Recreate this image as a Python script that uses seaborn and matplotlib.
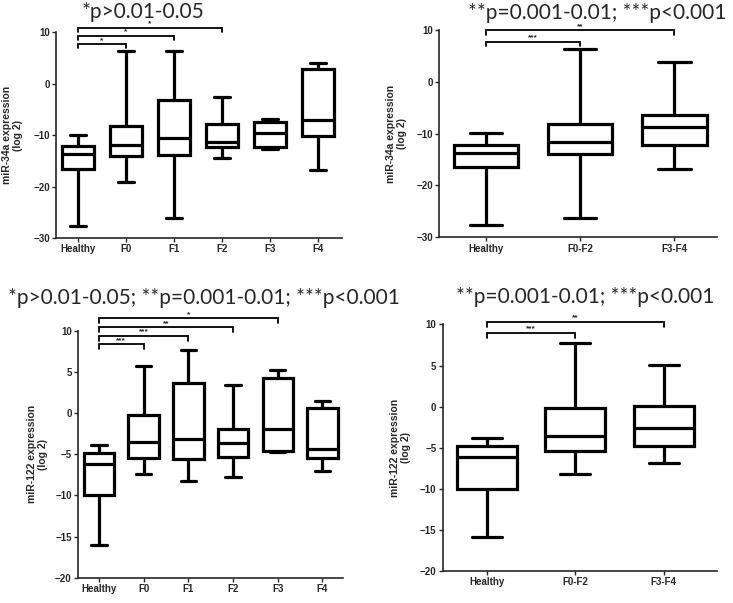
import numpy as np
import pandas as pd
import matplotlib
matplotlib.use('Agg')
import matplotlib.pyplot as plt
import seaborn as sns

# five-number summaries: low whisker, Q1, median, Q3, high whisker
groups_stage = ['Healthy', 'F0', 'F1', 'F2', 'F3', 'F4']
groups_pooled = ['Healthy', 'F0-F2', 'F3-F4']

mir34a_stage = [
    [-27.6, -16.6, -13.7, -12.1, -10.0],
    [-19.1, -14.1, -12.0, -8.3, 6.4],
    [-26.2, -13.8, -10.5, -3.2, 6.4],
    [-14.5, -12.4, -11.4, -7.8, -2.6],
    [-12.8, -12.4, -9.7, -7.4, -6.9],
    [-16.8, -10.2, -7.1, 2.9, 3.9],
]
mir34a_pooled = [
    [-27.6, -16.5, -13.7, -12.2, -9.9],
    [-26.2, -13.9, -11.7, -8.1, 6.3],
    [-16.9, -12.2, -8.7, -6.5, 3.8],
]
mir122_stage = [
    [-16.0, -10.0, -6.2, -4.9, -3.9],
    [-7.4, -5.5, -3.5, -0.2, 5.7],
    [-8.3, -5.6, -3.1, 3.7, 7.6],
    [-7.8, -5.3, -3.7, -2.0, 3.4],
    [-4.7, -4.6, -1.9, 4.2, 5.2],
    [-7.0, -5.5, -4.4, 0.6, 1.4],
]
mir122_pooled = [
    [-15.9, -10.0, -6.1, -4.8, -3.8],
    [-8.2, -5.4, -3.6, -0.2, 7.7],
    [-6.9, -4.8, -2.6, 0.1, 5.1],
]

# significance brackets: (compared group index, bracket height, stars)
brackets_34a_stage = [(1, 7.6, '*'), (2, 9.2, '*'), (3, 10.8, '*')]
brackets_34a_pooled = [(1, 7.75, '***'), (2, 9.9, '**')]
brackets_122_stage = [(1, 8.35, '***'), (2, 9.4, '***'), (3, 10.4, '**'), (4, 11.5, '*')]
brackets_122_pooled = [(1, 9.0, '***'), (2, 10.3, '**')]

sns.set_style('white')
plt.rcParams['font.family'] = ['Liberation Sans', 'DejaVu Sans']

fig = plt.figure(figsize=(7.33, 6.03), dpi=100)


def draw_panel(rect, groups, summaries, ylabel, ylim, yticks, xlim, brackets):
    ax = fig.add_axes(rect)
    df = pd.DataFrame({'group': np.repeat(groups, 5),
                       'value': np.concatenate(summaries)})
    sns.boxplot(data=df, x='group', y='value', order=groups, whis=(0, 100),
                width=0.68, color='white', linecolor='black', linewidth=2.3,
                ax=ax)
    ax.set_xlim(xlim)
    ax.set_ylim(ylim)
    ax.set_yticks(yticks)
    ax.set_xlabel('')
    ax.set_ylabel(ylabel, fontsize=7.5, fontweight='bold', linespacing=1.1)
    ax.yaxis.set_label_coords(-0.115, 0.5)
    sns.despine(ax=ax)
    for s in ['left', 'bottom']:
        ax.spines[s].set_linewidth(1.2)
    ax.tick_params(axis='both', length=3, width=1, labelsize=7, pad=1.5,
                   direction='out', left=True, bottom=True)
    for lab in ax.get_xticklabels() + ax.get_yticklabels():
        lab.set_fontweight('bold')
    h = 0.02 * (ylim[1] - ylim[0])
    for idx, y, stars in brackets:
        ax.plot([0, 0, idx, idx], [y - h, y, y, y - h], color='black', lw=1.3,
                clip_on=False, solid_joinstyle='miter')
        ax.text(idx / 2, y + 0.1 * h, stars, ha='center', va='bottom',
                fontsize=6, fontweight='bold')
    return ax


draw_panel([0.0764, 0.6053, 0.390, 0.3416], groups_stage, mir34a_stage,
           'miR-34a expression\n(log 2)', (-30, 10), [-30, -20, -10, 0, 10],
           (-0.46, 5.5), brackets_34a_stage)
draw_panel([0.599, 0.6065, 0.379, 0.344], groups_pooled, mir34a_pooled,
           'miR-34a expression\n(log 2)', (-30, 10), [-30, -20, -10, 0, 10],
           (-0.5, 2.45), brackets_34a_pooled)
draw_panel([0.1064, 0.042, 0.3615, 0.4096], groups_stage, mir122_stage,
           'miR-122 expression\n(log 2)', (-20, 10), [-20, -15, -10, -5, 0, 5, 10],
           (-0.47, 5.46), brackets_122_stage)
draw_panel([0.604, 0.053, 0.374, 0.409], groups_pooled, mir122_pooled,
           'miR-122 expression\n(log 2)', (-20, 10), [-20, -15, -10, -5, 0, 5, 10],
           (-0.5, 2.6), brackets_122_pooled)

title_font = ['Lato', 'DejaVu Sans']
fig.text(143 / 733, 1 - 12 / 603, '*p>0.01-0.05', ha='center', va='center',
         fontsize=15, family=title_font)
fig.text(597 / 733, 1 - 13 / 603, '**p=0.001-0.01; ***p<0.001', ha='center',
         va='center', fontsize=15, family=title_font)
fig.text(204 / 733, 1 - 298 / 603, '*p>0.01-0.05; **p=0.001-0.01; ***p<0.001',
         ha='center', va='center', fontsize=15, family=title_font)
fig.text(585 / 733, 1 - 297 / 603, '**p=0.001-0.01; ***p<0.001', ha='center',
         va='center', fontsize=15, family=title_font)

fig.savefig('out.png', dpi=100)
